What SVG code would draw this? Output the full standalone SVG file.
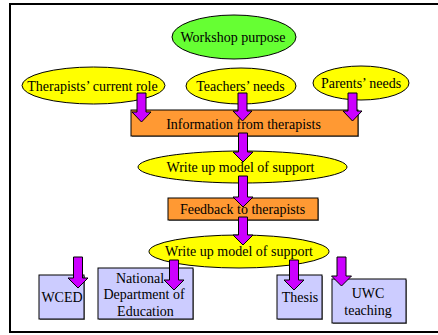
<svg xmlns="http://www.w3.org/2000/svg" width="438" height="335" viewBox="0 0 438 335">
<style>
text{font-family:'Liberation Serif','Times New Roman',serif;font-size:14px;fill:#000;text-anchor:middle}
.e{stroke:#000;stroke-width:1}
.y{fill:#ffff00}
.g{fill:#66ff33}
.o{fill:#ff9933;stroke:#000;stroke-width:1}
.b{fill:#ccccff;stroke:#000;stroke-width:1}
.sh{fill:#888}
.a{fill:#cc00ff;stroke:#000;stroke-width:1;stroke-linejoin:miter}
</style>
<rect x="0" y="0" width="438" height="335" fill="#fff"/>
<rect x="10" y="4" width="440" height="328" fill="none" stroke="#000" stroke-width="2"/>
<g id="workshop"><ellipse class="e g" cx="234" cy="37" rx="62" ry="22"/><text x="233" y="42">Workshop purpose</text></g>
<g id="therapists-role"><ellipse class="e y" cx="93.5" cy="85.5" rx="71.5" ry="18.5"/><text x="92.5" y="91">Therapists’ current role</text></g>
<g id="teachers"><ellipse class="e y" cx="241" cy="86" rx="55" ry="18"/><text x="240.5" y="91">Teachers’ needs</text></g>
<g id="parents"><ellipse class="e y" cx="361" cy="83" rx="48" ry="17"/><text x="361" y="88">Parents’ needs</text></g>
<g id="info"><rect class="sh" x="132" y="111" width="227" height="26"/><rect class="o" x="131" y="110" width="227" height="26"/><text x="243.5" y="129">Information from therapists</text></g>
<g id="writeup1"><ellipse class="e y" cx="242.5" cy="167" rx="104.5" ry="16"/><text x="240.5" y="172">Write up model of support</text></g>
<g id="feedback"><rect class="sh" x="169" y="199" width="150" height="22"/><rect class="o" x="168" y="198" width="150" height="22"/><text x="242.5" y="214">Feedback to therapists</text></g>
<g id="writeup2"><ellipse class="e y" cx="239" cy="251.5" rx="90" ry="16.5"/><text x="239" y="256">Write up model of support</text></g>
<g id="wced"><rect class="sh" x="40" y="276" width="45" height="44"/><rect class="b" x="39" y="275" width="45" height="44"/><text x="62" y="302">WCED</text></g>
<g id="national"><rect class="sh" x="99" y="269" width="95" height="51"/><rect class="b" x="98" y="268" width="95" height="51"/><text x="140" y="283">National</text><text x="144" y="299">Department of</text><text x="145.5" y="316">Education</text></g>
<g id="thesis"><rect class="sh" x="278" y="276" width="45" height="44"/><rect class="b" x="277" y="275" width="45" height="44"/><text x="300" y="302">Thesis</text></g>
<g id="uwc"><rect class="sh" x="333" y="280" width="74" height="44"/><rect class="b" x="332" y="279" width="74" height="44"/><text x="368" y="298">UWC</text><text x="368" y="315">teaching</text></g>
<g id="connectors">
<path class="a" d="M137,93 H146 V112 H151 L141.5,122 L132,112 H137 Z"/>
<path class="a" d="M238,93 H247 V111 H252 L242.5,121 L233,111 H238 Z"/>
<path class="a" d="M348,93 H357 V111 H362 L352.5,121 L343,111 H348 Z"/>
<path class="a" d="M238.5,133 H247.5 V152 H253 L243,162 L233,152 H238.5 Z"/>
<path class="a" d="M238.5,176 H247.5 V197 H253 L243,207 L233,197 H238.5 Z"/>
<path class="a" d="M238.5,217 H247.5 V235 H253 L243,245 L233,235 H238.5 Z"/>
<path class="a" d="M73.5,257 H82.5 V278 H88 L78,288 L68,278 H73.5 Z"/>
<path class="a" d="M169.5,260 H178.5 V280 H184 L174,290 L164,280 H169.5 Z"/>
<path class="a" d="M289.5,260 H298.5 V280 H304 L294,290 L284,280 H289.5 Z"/>
<path class="a" d="M337,257 H346 V276 H351.5 L341.5,286 L331.5,276 H337 Z"/>
</g>
</svg>
